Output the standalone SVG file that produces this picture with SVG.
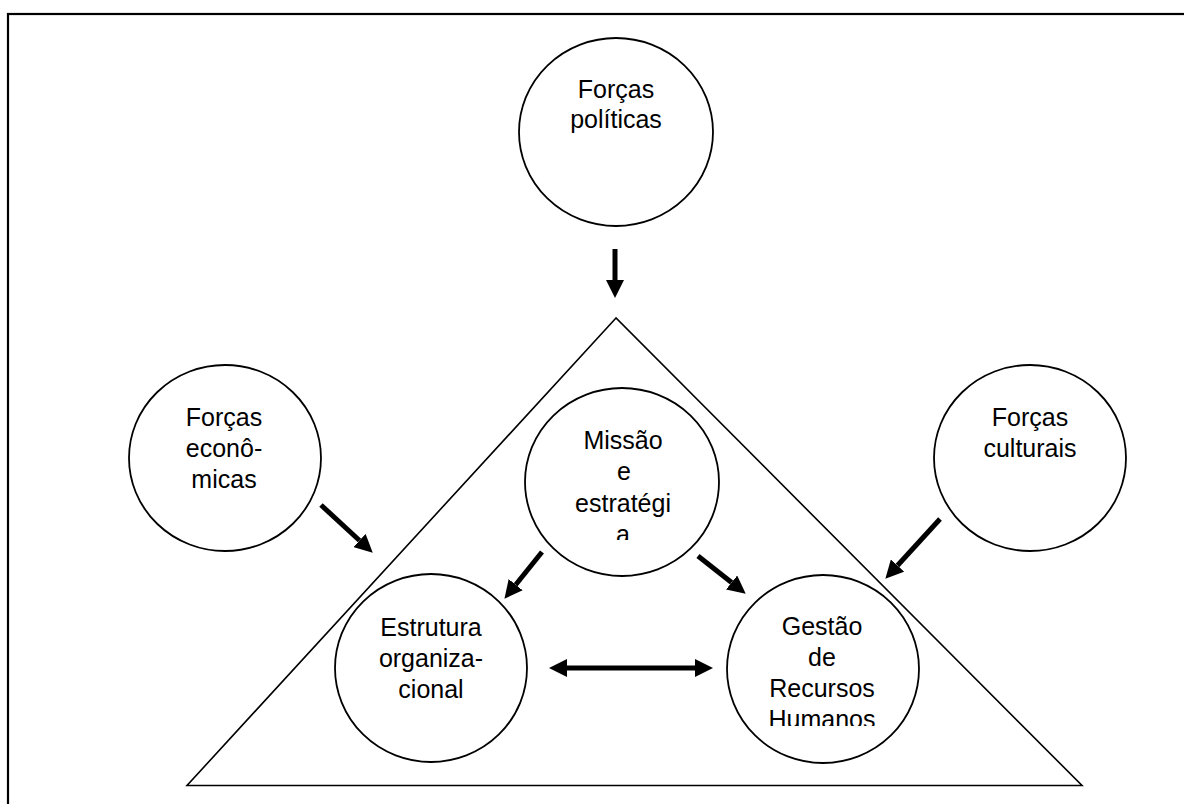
<svg xmlns="http://www.w3.org/2000/svg" width="1184" height="804" viewBox="0 0 1184 804">
<style>
.n{fill:#fff;stroke:#000;stroke-width:1.8}
.t{font-family:"Liberation Sans",Arial,sans-serif;font-size:25px;fill:#000;text-anchor:middle}
.c{stroke:#000;stroke-width:5;fill:none}
</style>
<defs>
<marker id="ah" markerUnits="userSpaceOnUse" markerWidth="18" markerHeight="18" refX="0" refY="8.5" orient="auto-start-reverse" viewBox="0 0 17 17">
<path d="M0,0 L17,8.5 L0,17 z" fill="#000"/>
</marker>
<clipPath id="clipM"><rect x="520" y="388" width="210" height="152"/></clipPath>
<clipPath id="clipG"><rect x="720" y="576" width="210" height="150"/></clipPath>
</defs>
<rect width="1184" height="804" fill="#fff"/>
<rect id="frame" x="8" y="14" width="1200" height="820" fill="none" stroke="#000" stroke-width="2.2"/>
<g id="triangle"><polygon points="616,318 187,785.5 1082,785.5" fill="none" stroke="#000" stroke-width="1.6"/></g>
<g id="forcas-politicas">
<ellipse class="n" cx="616" cy="132" rx="97" ry="94"/>
<text class="t" x="616" y="98">Forças</text>
<text class="t" x="616" y="128">políticas</text>
</g>
<g id="forcas-economicas">
<ellipse class="n" cx="225" cy="458" rx="96" ry="93"/>
<text class="t" x="224" y="426">Forças</text>
<text class="t" x="224" y="457">econô-</text>
<text class="t" x="224" y="488">micas</text>
</g>
<g id="forcas-culturais">
<ellipse class="n" cx="1030" cy="458" rx="96" ry="93"/>
<text class="t" x="1030" y="426">Forças</text>
<text class="t" x="1030" y="457">culturais</text>
</g>
<g id="missao">
<ellipse class="n" cx="622" cy="482" rx="97" ry="94"/>
<g clip-path="url(#clipM)">
<text class="t" x="623" y="449">Missão</text>
<text class="t" x="624" y="480">e</text>
<text class="t" x="623" y="512">estratégi</text>
<text class="t" x="623" y="543">a</text>
</g>
</g>
<g id="estrutura">
<ellipse class="n" cx="431" cy="668" rx="96" ry="94"/>
<text class="t" x="431" y="636">Estrutura</text>
<text class="t" x="431" y="667">organiza-</text>
<text class="t" x="431" y="698">cional</text>
</g>
<g id="gestao">
<ellipse class="n" cx="823" cy="669" rx="96" ry="94"/>
<g clip-path="url(#clipG)">
<text class="t" x="822" y="635">Gestão</text>
<text class="t" x="822" y="666">de</text>
<text class="t" x="822" y="697">Recursos</text>
<text class="t" x="822" y="728">Humanos</text>
</g>
</g>
<g id="connectors">
<line class="c" x1="615" y1="249" x2="615" y2="280" marker-end="url(#ah)"/>
<line class="c" x1="321" y1="505" x2="359.5" y2="540.5" marker-end="url(#ah)"/>
<line class="c" x1="940" y1="519" x2="897.5" y2="565.5" marker-end="url(#ah)"/>
<line class="c" x1="542" y1="552" x2="515.7" y2="584.7" marker-end="url(#ah)"/>
<line class="c" x1="698" y1="556" x2="731.6" y2="582.5" marker-end="url(#ah)"/>
<line class="c" x1="567" y1="668" x2="695" y2="668" marker-start="url(#ah)" marker-end="url(#ah)"/>
</g>
</svg>
